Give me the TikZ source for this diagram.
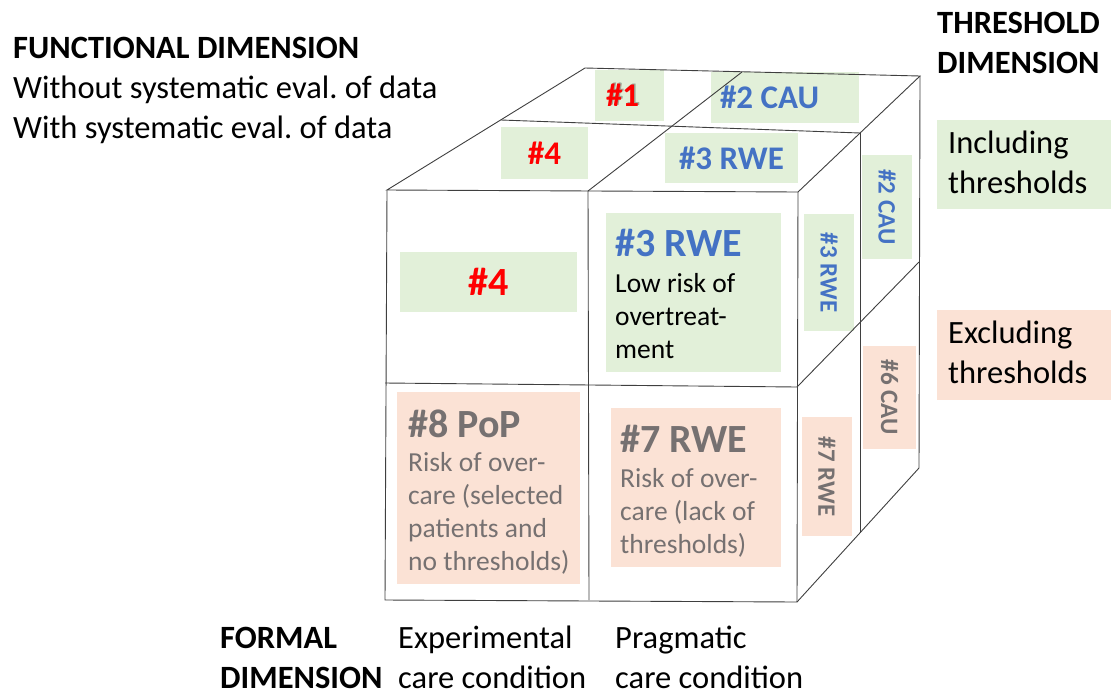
\documentclass[tikz,border=0pt]{standalone}
\usepackage{fontspec}
\setmainfont{Carlito}
\usepackage{xcolor}
\definecolor{cellGreen}{HTML}{E2F0D9}
\definecolor{cellSalmon}{HTML}{FBE2D5}
\definecolor{labBlue}{HTML}{4472C4}
\definecolor{labRed}{HTML}{FF0000}
\definecolor{labGray}{HTML}{767171}
\definecolor{edgeGray}{HTML}{3F3F3F}
\frenchspacing

\begin{document}
\begin{tikzpicture}[x=1pt, y=-1pt,
  every node/.style={inner sep=0pt},
  edge/.style={draw=edgeGray, line width=0.9pt},
  gcell/.style={fill=cellGreen},
  scell/.style={fill=cellSalmon},
  head/.style={font=\fontsize{32.5}{40}\selectfont\bfseries, anchor=base west, align=left},
  plain/.style={font=\fontsize{32.5}{40}\selectfont, anchor=base west, align=left},
  toplab/.style={font=\fontsize{33}{40}\selectfont\bfseries},
  biglab/.style={font=\fontsize{40}{48}\selectfont\bfseries},
  celltext/.style={font=\fontsize{27.5}{33}\selectfont, anchor=base west, align=left},
  sidelab/.style={font=\fontsize{25}{30}\selectfont\bfseries, rotate=-90},
  shadow/.style={text=black, opacity=0.3},
]
\useasboundingbox (0,0) rectangle (1111,694);

% corners of the cube
\coordinate (btl) at (585,68);
\coordinate (btr) at (920,76);
\coordinate (ftl) at (387,190);
\coordinate (ftr) at (798,192);
\coordinate (fbl) at (385,600);
\coordinate (fbr) at (797,602);
\coordinate (bbr) at (919,468);
% ends of the dividing lines
\coordinate (tml) at (501,120);
\coordinate (tmr) at (860,133);
\coordinate (tbm) at (742,72);
\coordinate (tfm) at (588,191);
\coordinate (fbm) at (589,600);
\coordinate (fml) at (385,383);
\coordinate (fmr) at (797,387);
\coordinate (smb) at (919,262);
\coordinate (sbm) at (860,533);

% top face cells
\node[gcell, minimum width=69, minimum height=51] (top1) at (629.5,95.5) {};
\node[toplab, shadow, anchor=west] (top1shade) at ([xshift=12.5,yshift=1.5]top1.west) {\#1};
\node[toplab, text=labRed, anchor=west] (top1lab) at ([xshift=11]top1.west) {\#1};
\node[gcell, minimum width=148, minimum height=51] (top2) at (785,97.5) {};
\node[toplab, text=labBlue, anchor=west] (top2lab) at ([xshift=9]top2.west) {\#2 CAU};
\node[gcell, toplab, text=labRed, minimum width=87, minimum height=52] (top4) at (544.5,153) {\#4};
\node[gcell, toplab, text=labBlue, minimum width=133, minimum height=50] (top3) at (731.5,158) {\#3 RWE};

% front face cells
\node[gcell, biglab, text=labRed, minimum width=177, minimum height=60] (front4) at (488.5,282) {\#4};
\node[gcell, minimum width=175, minimum height=159] (front3) at (693.5,292.5) {};
\node[biglab, text=labBlue, anchor=base west] (front3title) at (615,256) {\#3 RWE};
\node[celltext] (front3body) at (615,358) {Low risk of\\overtreat-\\ment};
\node[scell, minimum width=183, minimum height=192] (front8) at (488.5,488) {};
\node[biglab, text=labGray, anchor=base west] (front8title) at (408,437) {\#8 PoP};
\node[celltext, text=labGray] (front8body) at (408,570)
  {Risk of over-\\care (selected\\patients and\\no thresholds)};
\node[scell, minimum width=170, minimum height=159] (front7) at (696,487.5) {};
\node[biglab, text=labGray, anchor=base west] (front7title) at (620,452) {\#7 RWE};
\node[celltext, text=labGray] (front7body) at (620,553)
  {Risk of over-\\care (lack of\\thresholds)};

% side face cells
\node[gcell, sidelab, text=labBlue, minimum width=104, minimum height=50] (side2) at (887,207) {\#2 CAU};
\node[gcell, sidelab, text=labBlue, minimum width=117, minimum height=50] (side3) at (829,272.5) {\#3 RWE};
\node[scell, sidelab, text=labGray, minimum width=103, minimum height=53] (side6) at (889.5,397.5) {\#6 CAU};
\node[scell, sidelab, text=labGray, minimum width=119, minimum height=50] (side7) at (827,476.5) {\#7 RWE};

% cube edges
\draw[edge] (btl) -- (btr) -- (ftr) -- (ftl) -- cycle;
\draw[edge] (tml) -- (tmr);
\draw[edge] (tbm) -- (tfm);
\draw[edge] (ftl) -- (fbl) -- (fbr) -- (ftr);
\draw[edge] (tfm) -- (fbm);
\draw[edge] (fml) -- (fmr);
\draw[edge] (btr) -- (bbr) -- (fbr);
\draw[edge] (tmr) -- (sbm);
\draw[edge] (fmr) -- (smb);

% dimension legends
\node[head] (funchead) at (13,58) {FUNCTIONAL DIMENSION};
\node[plain] (funcwithout) at (13,98) {Without systematic eval. of data};
\node[plain] (funcwith) at (13,138) {With systematic eval. of data};

\node[head] (threshead) at (937,73) {THRESHOLD\\DIMENSION};
\node[gcell, minimum width=174, minimum height=89] (incl) at (1024,164.5) {};
\node[plain] (incltext) at (948,193) {Including\\thresholds};
\node[scell, minimum width=174, minimum height=90] (excl) at (1024,355) {};
\node[plain] (excltext) at (948,383) {Excluding\\thresholds};

\node[head] (formhead) at (220,688) {FORMAL\\DIMENSION};
\node[plain] (formexp) at (398,688) {Experimental\\care condition};
\node[plain] (formprag) at (615,688) {Pragmatic\\care condition};

\end{tikzpicture}
\end{document}
